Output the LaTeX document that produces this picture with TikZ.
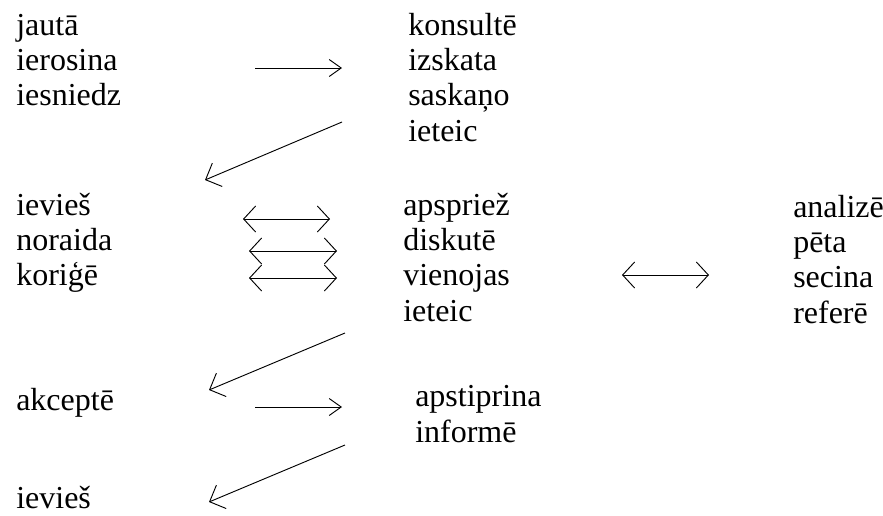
\documentclass[tikz,border=0pt]{standalone}
\usepackage{fontspec}
\setmainfont{Liberation Serif}
\usetikzlibrary{arrows.meta}

% a multi-line node's base anchor sits on its last line,
% so each group is placed by the baseline of its last word
\tikzset{
  words/.style={inner sep=0pt, anchor=base west, align=left,
    font=\fontsize{24}{26.5}\selectfont},
  link/.style={line width=0.7pt},
  onehead/.style={link, -{Straight Barb[length=9pt,width=12.75pt,line width=0.7pt]}},
  twohead/.style={link, {Straight Barb[length=9pt,width=19.5pt,line width=0.7pt]}-{Straight Barb[length=9pt,width=19.5pt,line width=0.7pt]}},
  backhead/.style={link, -{Straight Barb[length=9.5pt,width=19pt,line width=0.7pt]}},
}

\begin{document}
\begin{tikzpicture}[x=0.75pt, y=-0.75pt]
  \useasboundingbox (0,0) rectangle (883,515);

  % word groups
  \node[words] (ask)     at (16,105.7)  {jautā\\ierosina\\iesniedz};
  \node[words] (consult) at (408,141)   {konsultē\\izskata\\saskaņo\\ieteic};
  \node[words] (apply)   at (16,285.7)  {ievieš\\noraida\\koriģē};
  \node[words] (discuss) at (403,321)   {apspriež\\diskutē\\vienojas\\ieteic};
  \node[words] (study)   at (793,323)   {analizē\\pēta\\secina\\referē};
  \node[words] (accept)  at (16,410)    {akceptē};
  \node[words] (approve) at (415,442.3) {apstiprina\\informē};
  \node[words] (final)   at (16,508)    {ievieš};

  % arrow end points
  \coordinate (a1s) at (255,68);  \coordinate (a1e) at (342,68);
  \coordinate (d1s) at (342,122); \coordinate (d1e) at (205,180);
  \coordinate (b1s) at (243,219); \coordinate (b1e) at (330,219);
  \coordinate (b2s) at (249,251); \coordinate (b2e) at (337,251);
  \coordinate (b3s) at (249,278); \coordinate (b3e) at (337,278);
  \coordinate (b4s) at (622,275); \coordinate (b4e) at (709,275);
  \coordinate (d2s) at (345,333); \coordinate (d2e) at (209,390);
  \coordinate (a2s) at (255,407); \coordinate (a2e) at (342,407);
  \coordinate (d3s) at (345,445); \coordinate (d3e) at (209,502);

  % arrows
  \draw[onehead]  (a1s) -- (a1e);
  \draw[backhead] (d1s) -- (d1e);
  \draw[twohead]  (b1s) -- (b1e);
  \draw[twohead]  (b2s) -- (b2e);
  \draw[twohead]  (b3s) -- (b3e);
  \draw[twohead]  (b4s) -- (b4e);
  \draw[backhead] (d2s) -- (d2e);
  \draw[onehead]  (a2s) -- (a2e);
  \draw[backhead] (d3s) -- (d3e);
\end{tikzpicture}
\end{document}
